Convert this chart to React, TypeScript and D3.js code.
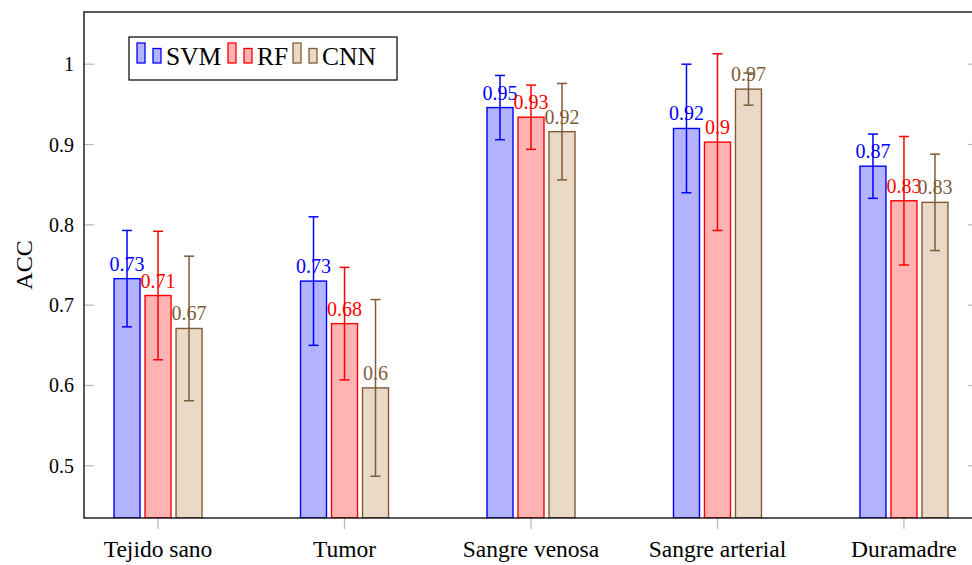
import React from "react";
import * as d3 from "d3";

// Categories and per-model accuracy with standard deviations
const categories = ["Tejido sano", "Tumor", "Sangre venosa", "Sangre arterial", "Duramadre"];
const svmValues = [0.733, 0.730, 0.946, 0.920, 0.873];
const svmErrors = [0.06, 0.08, 0.04, 0.08, 0.04];
const rfValues = [0.712, 0.677, 0.934, 0.903, 0.830];
const rfErrors = [0.08, 0.07, 0.04, 0.11, 0.08];
const cnnValues = [0.671, 0.597, 0.916, 0.969, 0.828];
const cnnErrors = [0.09, 0.11, 0.06, 0.02, 0.06];
const yTicks = [0.5, 0.6, 0.7, 0.8, 0.9, 1];
const seriesNames = ["SVM", "RF", "CNN"];

const W = 972;
const H = 565;
const left = 84;
const right = 978;
const top = 12;
const bottom = 518;

const serif = "'Liberation Serif', 'Times New Roman', serif";

const styles = [
  { fill: "#b3b3ff", stroke: "#0000ff", text: "#0000ff" },
  { fill: "#ffb3b3", stroke: "#ff0000", text: "#ff0000" },
  { fill: "#ead9c6", stroke: "#7f5c38", text: "#7f5c38" },
];

const fmt = (v: number) => String(Math.round(v * 100) / 100);

export default function App() {
  const y = d3.scaleLinear().domain([0.435, 1.065]).range([bottom, top]);
  const x = d3.scaleLinear().domain([-0.397, categories.length - 1 + 0.397]).range([left, right]);
  const barW = 26;
  const shift = 31;
  const cap = 5;

  const series = [
    { values: svmValues, errors: svmErrors },
    { values: rfValues, errors: rfErrors },
    { values: cnnValues, errors: cnnErrors },
  ];

  const legendStarts = [137, 228, 293];

  return (
    <svg
      width={W}
      height={H}
      style={{ position: "absolute", left: 0, top: 0, display: "block", background: "#fff" }}
    >
      <defs>
        <clipPath id="plot-clip">
          <rect x={left} y={top} width={right - left} height={bottom - top} />
        </clipPath>
      </defs>

      {/* y ticks inside on both sides */}
      {yTicks.map((t) => (
        <g key={"yt" + t}>
          <line x1={left} x2={left + 10} y1={y(t)} y2={y(t)} stroke="#b8b8b8" strokeWidth={1.2} />
          <line x1={right - 10} x2={right} y1={y(t)} y2={y(t)} stroke="#b8b8b8" strokeWidth={1.2} />
          <text
            x={left - 10}
            y={y(t)}
            dy="0.35em"
            textAnchor="end"
            fontFamily={serif}
            fontSize={20}
            fill="#000"
          >
            {String(t)}
          </text>
        </g>
      ))}

      {/* x ticks below the axis */}
      {categories.map((c, i) => (
        <g key={"xt" + c}>
          <line x1={x(i)} x2={x(i)} y1={bottom} y2={bottom + 11} stroke="#b8b8b8" strokeWidth={1.2} />
          <text x={x(i)} y={557} textAnchor="middle" fontFamily={serif} fontSize={23.5} fill="#000">
            {c}
          </text>
        </g>
      ))}

      {/* bars, error bars and value labels */}
      <g clipPath="url(#plot-clip)">
        {series.map((s, si) => (
          <g key={"s" + si}>
            {s.values.map((v, i) => {
              const cx = x(i) + (si - 1) * shift;
              const st = styles[si];
              const e = s.errors[i];
              return (
                <g key={i}>
                  <rect
                    x={cx - barW / 2}
                    y={y(v)}
                    width={barW}
                    height={bottom - y(v)}
                    fill={st.fill}
                    stroke={st.stroke}
                    strokeWidth={1.4}
                  />
                  <text
                    x={cx}
                    y={y(v) - 8}
                    textAnchor="middle"
                    fontFamily={serif}
                    fontSize={20}
                    fill={st.text}
                  >
                    {fmt(v)}
                  </text>
                  <g stroke={st.stroke} strokeWidth={1.5}>
                    <line x1={cx} x2={cx} y1={y(v + e)} y2={y(v - e)} />
                    <line x1={cx - cap} x2={cx + cap} y1={y(v + e)} y2={y(v + e)} />
                    <line x1={cx - cap} x2={cx + cap} y1={y(v - e)} y2={y(v - e)} />
                  </g>
                </g>
              );
            })}
          </g>
        ))}
      </g>

      {/* axis frame */}
      <rect
        x={left}
        y={top}
        width={right - left}
        height={bottom - top}
        fill="none"
        stroke="#000"
        strokeWidth={1.3}
      />

      {/* y axis title */}
      <text
        transform={`translate(32, ${(top + bottom) / 2}) rotate(-90)`}
        textAnchor="middle"
        fontFamily={serif}
        fontSize={24}
        fill="#000"
      >
        ACC
      </text>

      {/* legend */}
      <rect x={129} y={37} width={268} height={43} fill="#fff" stroke="#000" strokeWidth={1.2} />
      {seriesNames.map((name, si) => {
        const sx = legendStarts[si];
        const st = styles[si];
        return (
          <g key={"lg" + name}>
            <rect x={sx} y={43} width={8} height={20} fill={st.fill} stroke={st.stroke} strokeWidth={1.3} />
            <rect x={sx + 16} y={48.5} width={8} height={14.5} fill={st.fill} stroke={st.stroke} strokeWidth={1.3} />
            <text x={sx + 29} y={65} fontFamily={serif} fontSize={25.5} fill="#000">
              {name}
            </text>
          </g>
        );
      })}
    </svg>
  );
}
